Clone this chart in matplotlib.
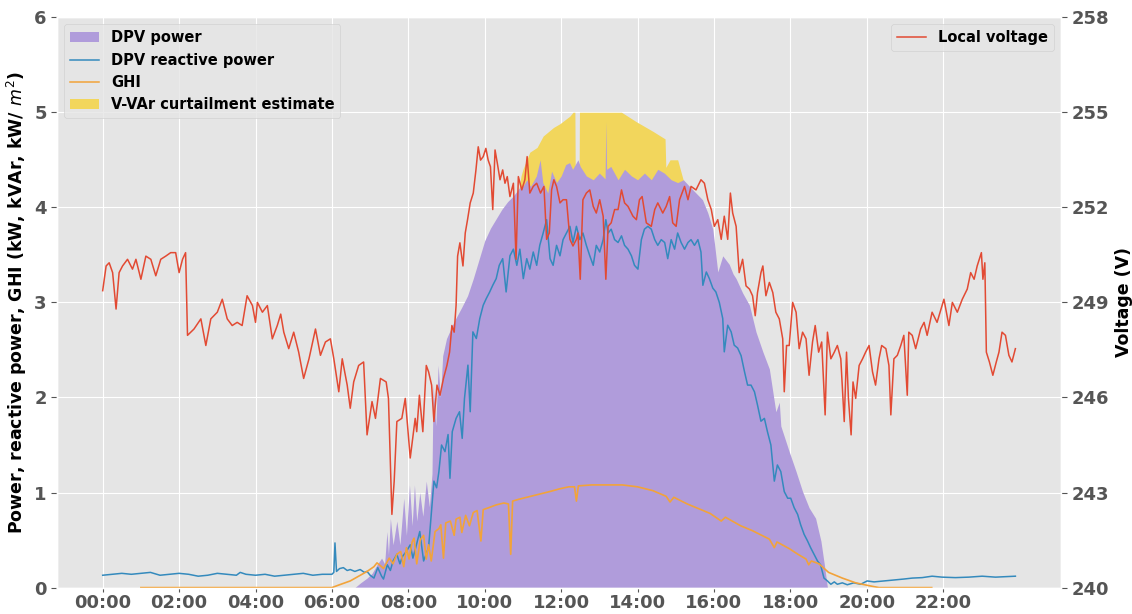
import matplotlib
matplotlib.use("Agg")
import matplotlib.pyplot as plt
from matplotlib.patches import Patch
from matplotlib.lines import Line2D

# ---------------- data (hours of day) ----------------
volt_t = [0.0, 0.09, 0.17, 0.26, 0.35, 0.43, 0.52, 0.65, 0.78, 0.87, 1.0, 1.13, 1.26, 1.39, 1.52, 1.65,
          1.78, 1.91, 2.0, 2.09, 2.17, 2.22, 2.39, 2.57, 2.70, 2.83, 3.0, 3.13, 3.26, 3.39, 3.52, 3.65,
          3.78, 3.92, 4.0, 4.05, 4.18, 4.31, 4.44, 4.57, 4.66, 4.74, 4.87, 5.0, 5.13, 5.26, 5.40, 5.57,
          5.70, 5.83, 5.96, 6.05, 6.18, 6.27, 6.40, 6.48, 6.57, 6.70, 6.83, 6.92, 7.05, 7.14, 7.27, 7.42,
          7.48, 7.57, 7.63, 7.70, 7.83, 7.92, 8.05, 8.18, 8.22, 8.29, 8.38, 8.47, 8.53, 8.61, 8.67, 8.75,
          8.83, 8.92, 9.01, 9.08, 9.14, 9.20, 9.25, 9.29, 9.35, 9.43, 9.49, 9.55, 9.62, 9.70, 9.77, 9.83,
          9.89, 9.96, 10.03, 10.09, 10.15, 10.21, 10.27, 10.33, 10.40, 10.47, 10.53, 10.59, 10.66, 10.75,
          10.82, 10.88, 10.97, 11.05, 11.11, 11.18, 11.27, 11.36, 11.46, 11.55, 11.62, 11.69, 11.75, 11.81,
          11.88, 11.97, 12.05, 12.14, 12.23, 12.31, 12.40, 12.44, 12.50, 12.57, 12.66, 12.75, 12.84, 12.92,
          13.01, 13.10, 13.17, 13.23, 13.31, 13.40, 13.49, 13.58, 13.66, 13.75, 13.88, 13.97, 14.05, 14.12,
          14.23, 14.36, 14.45, 14.53, 14.66, 14.75, 14.84, 14.92, 15.01, 15.10, 15.23, 15.32, 15.40, 15.53,
          15.66, 15.75, 15.84, 15.93, 16.01, 16.10, 16.19, 16.27, 16.36, 16.43, 16.49, 16.58, 16.66, 16.75,
          16.84, 16.93, 17.01, 17.08, 17.14, 17.23, 17.28, 17.36, 17.45, 17.54, 17.62, 17.71, 17.80, 17.84,
          17.90, 17.97, 18.06, 18.15, 18.23, 18.32, 18.41, 18.49, 18.58, 18.65, 18.74, 18.82, 18.91, 18.97,
          19.06, 19.15, 19.23, 19.32, 19.41, 19.47, 19.52, 19.59, 19.64, 19.71, 19.80, 19.89, 19.97, 20.06,
          20.15, 20.23, 20.32, 20.39, 20.50, 20.58, 20.63, 20.71, 20.80, 20.89, 20.97, 21.06, 21.10, 21.19,
          21.28, 21.41, 21.50, 21.58, 21.71, 21.84, 22.02, 22.15, 22.24, 22.37, 22.50, 22.63, 22.72, 22.81,
          22.89, 23.0, 23.04, 23.09, 23.13, 23.21, 23.30, 23.39, 23.46, 23.54, 23.63, 23.72, 23.80, 23.89]
volt_v = [249.37, 250.15, 250.25, 249.94, 248.79, 249.94, 250.15, 250.36, 250.05, 250.36, 249.73, 250.46,
          250.36, 249.84, 250.36, 250.46, 250.57, 250.57, 249.94, 250.36, 250.57, 247.96, 248.16, 248.48,
          247.64, 248.48, 248.69, 249.10, 248.48, 248.27, 248.37, 248.27, 249.21, 248.90, 248.37, 249.0,
          248.69, 248.90, 247.85, 248.27, 248.63, 248.06, 247.54, 248.06, 247.43, 246.60, 247.22, 248.16,
          247.33, 247.75, 247.85, 247.22, 246.18, 247.22, 246.39, 245.66, 246.49, 247.01, 247.12, 244.82,
          245.87, 245.34, 246.60, 246.49, 245.97, 242.31, 243.36, 245.24, 245.34, 245.97, 244.09, 245.34,
          244.92, 246.07, 244.92, 247.01, 246.81, 246.39, 245.24, 246.39, 246.07, 246.60, 247.01, 247.43,
          248.27, 248.06, 248.90, 250.46, 250.88, 250.15, 251.19, 251.61, 252.14, 252.45, 253.18, 253.91,
          253.49, 253.60, 253.86, 253.49, 253.28, 251.93, 253.81, 253.39, 252.87, 253.18, 252.76, 252.97,
          252.34, 252.76, 250.36, 252.97, 252.55, 252.87, 253.60, 252.45, 252.66, 252.76, 252.45, 252.66,
          250.99, 251.19, 252.55, 252.87, 252.66, 252.14, 252.24, 252.24, 250.99, 250.78, 250.99, 251.19,
          249.73, 252.24, 252.45, 252.55, 252.03, 251.82, 252.24, 251.72, 249.73, 251.40, 251.51, 251.93,
          251.93, 252.55, 252.14, 252.03, 251.72, 251.61, 252.24, 252.34, 251.51, 251.40, 251.93, 252.14,
          251.82, 252.03, 252.34, 251.51, 251.40, 252.24, 252.66, 252.24, 252.66, 252.55, 252.87, 252.76,
          252.24, 251.93, 251.40, 251.61, 250.99, 251.72, 250.99, 252.45, 251.82, 251.40, 249.94, 250.36,
          249.52, 249.42, 249.21, 248.58, 249.31, 249.94, 250.15, 249.21, 249.63, 249.31, 248.69, 248.48,
          247.85, 246.18, 247.64, 247.64, 249.0, 248.69, 247.54, 248.06, 247.85, 246.70, 247.75, 248.27,
          247.43, 247.75, 245.45, 248.06, 247.22, 247.43, 247.64, 247.22, 245.24, 247.43, 245.97, 244.82,
          246.49, 245.97, 247.01, 247.22, 247.43, 247.64, 246.81, 246.39, 247.22, 247.64, 247.54, 247.01,
          245.45, 247.22, 247.33, 247.64, 247.96, 246.07, 248.06, 247.96, 247.54, 248.16, 248.37, 247.96,
          248.69, 248.37, 249.10, 248.27, 249.0, 248.69, 249.10, 249.42, 249.94, 249.73, 250.15, 250.57,
          249.73, 250.25, 247.43, 247.12, 246.70, 247.12, 247.43, 248.06, 247.96, 247.33, 247.12, 247.54]

q_t = [0.0, 0.25, 0.5, 0.75, 1.0, 1.25, 1.5, 1.75, 2.0, 2.25, 2.5, 2.75, 3.0, 3.25, 3.5, 3.6, 3.75, 4.0,
       4.25, 4.5, 4.75, 5.0, 5.25, 5.5, 5.75, 6.0, 6.05, 6.08, 6.12, 6.2, 6.3, 6.4, 6.48, 6.6, 6.74, 6.85,
       6.92, 7.0, 7.1, 7.2, 7.3, 7.35, 7.45, 7.53, 7.6, 7.7, 7.78, 7.85, 7.95, 8.05, 8.12, 8.18, 8.3, 8.4,
       8.53, 8.6, 8.67, 8.74, 8.8, 8.87, 8.96, 9.04, 9.09, 9.15, 9.25, 9.34, 9.41, 9.47, 9.56, 9.62, 9.69,
       9.78, 9.87, 9.96, 10.04, 10.13, 10.21, 10.3, 10.38, 10.47, 10.56, 10.66, 10.75, 10.84, 10.92, 11.01,
       11.1, 11.18, 11.27, 11.36, 11.44, 11.53, 11.62, 11.71, 11.79, 11.88, 11.97, 12.05, 12.14, 12.23,
       12.31, 12.4, 12.49, 12.57, 12.66, 12.75, 12.84, 12.92, 13.01, 13.1, 13.17, 13.23, 13.31, 13.4, 13.49,
       13.58, 13.66, 13.75, 13.84, 13.92, 14.01, 14.1, 14.18, 14.27, 14.36, 14.45, 14.53, 14.62, 14.71,
       14.79, 14.88, 14.97, 15.05, 15.14, 15.23, 15.32, 15.4, 15.49, 15.58, 15.66, 15.71, 15.8, 15.88,
       15.97, 16.05, 16.14, 16.23, 16.27, 16.36, 16.45, 16.53, 16.62, 16.71, 16.8, 16.88, 16.97, 17.06,
       17.14, 17.23, 17.32, 17.4, 17.49, 17.58, 17.66, 17.75, 17.84, 17.93, 18.01, 18.1, 18.19, 18.27,
       18.36, 18.45, 18.53, 18.62, 18.71, 18.79, 18.88, 18.97, 19.06, 19.15, 19.23, 19.36, 19.49, 19.66,
       19.84, 20.01, 20.19, 20.45, 20.71, 20.97, 21.19, 21.45, 21.71, 21.97, 22.32, 22.67, 23.02, 23.37,
       23.89]
q_v = [0.13, 0.14, 0.15, 0.14, 0.15, 0.16, 0.13, 0.14, 0.15, 0.14, 0.12, 0.13, 0.15, 0.14, 0.13, 0.16,
       0.14, 0.13, 0.14, 0.12, 0.13, 0.14, 0.15, 0.13, 0.14, 0.14, 0.16, 0.47, 0.17, 0.20, 0.21, 0.18, 0.19,
       0.17, 0.19, 0.16, 0.17, 0.13, 0.10, 0.21, 0.12, 0.09, 0.24, 0.18, 0.28, 0.35, 0.25, 0.33, 0.38, 0.45,
       0.31, 0.40, 0.59, 0.28, 0.42, 0.77, 1.12, 1.05, 1.22, 1.50, 1.43, 1.61, 1.15, 1.64, 1.78, 1.85, 1.57,
       1.99, 2.34, 1.85, 2.69, 2.62, 2.83, 2.97, 3.04, 3.11, 3.18, 3.25, 3.39, 3.46, 3.11, 3.49, 3.56, 3.39,
       3.56, 3.25, 3.46, 3.35, 3.53, 3.39, 3.60, 3.73, 3.87, 3.46, 3.39, 3.60, 3.49, 3.66, 3.73, 3.80, 3.63,
       3.80, 3.66, 3.73, 3.60, 3.49, 3.39, 3.60, 3.53, 3.66, 3.87, 3.73, 3.77, 3.66, 3.63, 3.70, 3.60, 3.56,
       3.49, 3.39, 3.35, 3.66, 3.77, 3.80, 3.77, 3.66, 3.60, 3.66, 3.63, 3.46, 3.66, 3.56, 3.73, 3.63, 3.56,
       3.63, 3.66, 3.60, 3.66, 3.53, 3.18, 3.32, 3.25, 3.15, 3.11, 3.00, 2.83, 2.48, 2.76, 2.69, 2.55, 2.52,
       2.44, 2.27, 2.13, 2.13, 2.06, 1.92, 1.75, 1.78, 1.64, 1.50, 1.12, 1.29, 1.22, 1.01, 0.94, 0.94, 0.84,
       0.77, 0.66, 0.56, 0.49, 0.42, 0.35, 0.28, 0.24, 0.10, 0.07, 0.035, 0.06, 0.035, 0.05, 0.03, 0.05,
       0.035, 0.07, 0.06, 0.07, 0.08, 0.09, 0.10, 0.105, 0.12, 0.11, 0.105, 0.11, 0.12, 0.11, 0.12]

dpv_t = [6.6, 6.75, 6.92, 7.05, 7.18, 7.3, 7.38, 7.44, 7.48, 7.53, 7.6, 7.7, 7.78, 7.88, 7.95, 8.03, 8.1,
         8.16, 8.22, 8.3, 8.38, 8.47, 8.55, 8.62, 8.65, 8.72, 8.78, 8.84, 8.9, 9.0, 9.2, 9.4, 9.55, 9.7,
         9.85, 10.0, 10.15, 10.3, 10.45, 10.6, 10.75, 10.9, 11.0, 11.1, 11.2, 11.35, 11.45, 11.52, 11.65,
         11.75, 11.88, 12.0, 12.12, 12.22, 12.3, 12.44, 12.5, 12.66, 12.84, 13.0, 13.15, 13.17, 13.19, 13.3,
         13.49, 13.66, 13.84, 14.0, 14.18, 14.36, 14.53, 14.7, 14.88, 15.05, 15.2, 15.36, 15.53, 15.7,
         15.84, 15.97, 16.1, 16.23, 16.4, 16.5, 16.58, 16.75, 16.93, 17.1, 17.28, 17.45, 17.62, 17.71,
         17.75, 17.97, 18.15, 18.32, 18.49, 18.66, 18.8, 18.89, 18.97]
dpv_p = [0.0, 0.05, 0.10, 0.15, 0.24, 0.31, 0.25, 0.59, 0.35, 0.73, 0.45, 0.70, 0.45, 0.94, 0.55, 1.08,
         0.65, 1.08, 0.70, 1.00, 0.75, 1.12, 0.85, 1.20, 2.13, 1.70, 2.34, 2.00, 2.44, 2.62, 2.80, 2.95,
         3.07, 3.25, 3.45, 3.65, 3.78, 3.88, 3.98, 4.06, 4.12, 4.20, 4.22, 4.29, 4.22, 4.33, 4.50, 4.26,
         4.15, 4.38, 4.26, 4.33, 4.45, 4.47, 4.40, 4.50, 4.43, 4.33, 4.29, 4.36, 4.30, 4.90, 4.40, 4.43,
         4.29, 4.40, 4.33, 4.29, 4.36, 4.29, 4.40, 4.36, 4.29, 4.26, 4.29, 4.22, 4.15, 4.08, 3.94, 3.77,
         3.32, 3.49, 3.40, 3.30, 3.25, 3.10, 2.97, 2.69, 2.48, 2.30, 1.85, 1.95, 1.70, 1.43, 1.22, 1.01,
         0.84, 0.73, 0.49, 0.24, 0.0]

ghi_t = [1.0, 6.0, 6.2, 6.48, 6.7, 6.92, 7.1, 7.18, 7.3, 7.35, 7.5, 7.6, 7.7, 7.8, 7.88, 7.95, 8.02, 8.1,
         8.15, 8.22, 8.31, 8.4, 8.47, 8.53, 8.6, 8.7, 8.8, 8.85, 8.92, 8.98, 9.1, 9.2, 9.25, 9.35, 9.4, 9.5,
         9.6, 9.7, 9.8, 9.9, 9.96, 10.1, 10.3, 10.5, 10.62, 10.68, 10.73, 10.9, 11.1, 11.3, 11.5, 11.7,
         11.97, 12.2, 12.35, 12.4, 12.45, 12.8, 13.2, 13.6, 14.0, 14.4, 14.75, 14.85, 14.95, 15.3, 15.6,
         15.9, 16.19, 16.3, 16.7, 17.0, 17.45, 17.58, 17.65, 17.97, 18.2, 18.41, 18.48, 18.55, 18.75, 19.0,
         19.36, 19.71, 20.06, 20.32, 21.7]
ghi_v = [0.0, 0.0, 0.03, 0.07, 0.12, 0.17, 0.22, 0.26, 0.22, 0.20, 0.31, 0.25, 0.35, 0.38, 0.22, 0.42,
         0.30, 0.48, 0.52, 0.25, 0.50, 0.55, 0.30, 0.45, 0.28, 0.59, 0.62, 0.66, 0.31, 0.68, 0.70, 0.55,
         0.72, 0.74, 0.58, 0.76, 0.65, 0.79, 0.81, 0.49, 0.82, 0.84, 0.87, 0.89, 0.88, 0.35, 0.91, 0.93,
         0.95, 0.97, 0.99, 1.01, 1.04, 1.06, 1.06, 0.91, 1.07, 1.08, 1.08, 1.08, 1.06, 1.02, 0.96, 0.90,
         0.95, 0.88, 0.83, 0.78, 0.70, 0.74, 0.65, 0.60, 0.51, 0.42, 0.48, 0.41, 0.35, 0.30, 0.24, 0.28,
         0.25, 0.16, 0.10, 0.05, 0.02, 0.0, 0.0]

curt_t = [10.9, 10.95, 11.0, 11.18, 11.37, 11.53, 11.8, 11.97, 12.23, 12.31, 12.36, 12.37, 12.47, 12.48,
          13.58, 13.97, 14.4, 14.72, 14.74, 14.85, 15.05, 15.2]
curt_top = [4.20, 4.33, 4.40, 4.58, 4.63, 4.75, 4.84, 4.88, 4.96, 5.0, 5.0, 4.30, 4.30, 5.0, 5.0, 4.90,
            4.80, 4.72, 4.42, 4.50, 4.50, 4.28]

hour_ticks = [0, 2, 4, 6, 8, 10, 12, 14, 16, 18, 20, 22]
hour_labels = ["00:00", "02:00", "04:00", "06:00", "08:00", "10:00", "12:00", "14:00", "16:00",
               "18:00", "20:00", "22:00"]
left_ticks = [0, 1, 2, 3, 4, 5, 6]
volt_ticks = [240, 243, 246, 249, 252, 255, 258]

# ---------------- style ----------------
plt.style.use("ggplot")
C_RED = "#E24A33"
C_BLUE = "#348ABD"
C_PURPLE = "#B09CDB"
C_ORANGE = "#F2A33A"
C_YELLOW = "#F2D65C"

fig, ax = plt.subplots(figsize=(11.32, 6.14), dpi=100)
fig.subplots_adjust(left=0.0504, right=0.9373, top=0.972, bottom=0.043)

ax.fill_between(curt_t, 0, curt_top, color=C_YELLOW, lw=0, zorder=1)
ax.fill_between(dpv_t, 0, dpv_p, color=C_PURPLE, lw=0, zorder=2)
ax.plot(q_t, q_v, color=C_BLUE, lw=1.1, zorder=3)
ax.plot(ghi_t, ghi_v, color=C_ORANGE, lw=1.2, zorder=4)

ax.set_ylim(0, 6)
ax.set_yticks(left_ticks)
ax.set_xticks(hour_ticks)
ax.set_xticklabels(hour_labels)
ax.margins(x=0.05)

ax2 = ax.twinx()
ax2.plot(volt_t, volt_v, color=C_RED, lw=1.1)
ax2.set_ylim(240, 258)
ax2.set_yticks(volt_ticks)
ax2.grid(False)

for a in (ax, ax2):
    a.tick_params(axis="both", labelsize=13, colors="#555555", length=4)
    for lab in a.get_xticklabels() + a.get_yticklabels():
        lab.set_fontweight("bold")
ax.tick_params(axis="x", pad=1.5, length=3)

ax.set_ylabel("Power, reactive power, GHI (kW, kVAr, kW/ $m^2$)", fontsize=12.5,
              fontweight="bold", color="black", labelpad=4)
ax2.set_ylabel("Voltage (V)", fontsize=12.5, fontweight="bold", color="black", labelpad=4)

handles = [Patch(facecolor=C_PURPLE, edgecolor="none"),
           Line2D([], [], color=C_BLUE, lw=1.1),
           Line2D([], [], color=C_ORANGE, lw=1.1),
           Patch(facecolor=C_YELLOW, edgecolor="none")]
labels = ["DPV power", "DPV reactive power", "GHI", "V-VAr curtailment estimate"]
leg = ax.legend(handles, labels, loc="upper left", prop={"weight": "bold", "size": 10.5},
                framealpha=0.8)
leg2 = ax2.legend([Line2D([], [], color=C_RED, lw=1.1)], ["Local voltage"], loc="upper right",
                  prop={"weight": "bold", "size": 10.5}, framealpha=0.8)

fig.savefig("out.png", dpi=100)
